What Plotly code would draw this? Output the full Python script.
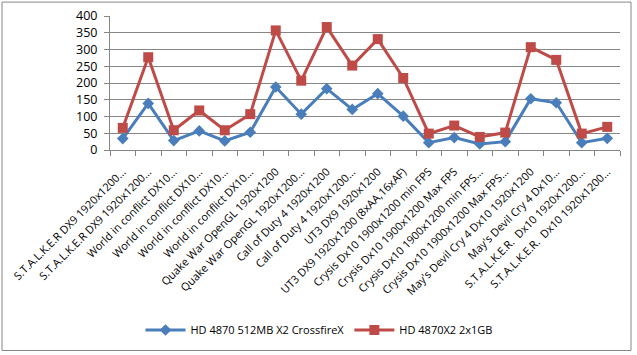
import plotly.graph_objects as go

categories = [
    "S.T.A.L.K.E.R DX9 1920x1200...",
    "S.T.A.L.K.E.R DX9 1920x1200...",
    "World in conflict DX10...",
    "World in conflict DX10...",
    "World in conflict DX10...",
    "World in conflict DX10...",
    "Quake War OpenGL 1920x1200",
    "Quake War OpenGL 1920x1200...",
    "Call of Duty 4 1920x1200",
    "Call of Duty 4 1920x1200...",
    "UT3 DX9 1920x1200",
    "UT3 DX9 1920x1200 (8xAA,16xAF)",
    "Crysis Dx10 1900x1200 min FPS",
    "Crysis Dx10 1900x1200 Max FPS",
    "Crysis Dx10 1900x1200 min FPS...",
    "Crysis Dx10 1900x1200 Max FPS...",
    "May's Devil Cry 4 Dx10 1920x1200",
    "May's Devil Cry 4 Dx10...",
    "S.T.A.L.K.E.R.  Dx10 1920x1200...",
    "S.T.A.L.K.E.R.  Dx10 1920x1200...",
]
crossfire = [34, 139, 28, 57, 27, 53, 188, 107, 183, 121, 168, 101, 22, 37, 18, 25, 153, 141, 22, 35]
x2 = [66, 277, 59, 118, 59, 107, 357, 207, 367, 252, 331, 215, 49, 73, 39, 52, 307, 269, 49, 69]
y_ticks = [0, 50, 100, 150, 200, 250, 300, 350, 400]

idx = list(range(len(categories)))
FONT = "'Open Sans', 'Noto Sans', sans-serif"

fig = go.Figure()
fig.add_trace(go.Scatter(
    x=idx, y=crossfire, mode="lines+markers", name="HD 4870 512MB X2 CrossfireX",
    line=dict(color="#4A7EBB", width=3),
    marker=dict(symbol="diamond", size=9, color="#4A7EBB"),
))
fig.add_trace(go.Scatter(
    x=idx, y=x2, mode="lines+markers", name="HD 4870X2 2x1GB",
    line=dict(color="#BE4B48", width=3),
    marker=dict(symbol="square", size=10, color="#BE4B48"),
))

L, R, T, B = 110, 17, 16, 204
W, H = 637, 355
pw, ph = W - L - R, H - T - B

def px_x(p):
    return (p - L) / pw

def px_y(p):
    return (H - B - p) / ph

fig.update_layout(
    width=W, height=H, autosize=False,
    margin=dict(l=L, r=R, t=T, b=B),
    paper_bgcolor="white", plot_bgcolor="white",
    font=dict(family=FONT, size=11, color="black"),
    showlegend=True,
    legend=dict(orientation="h", x=px_x(319), xanchor="center", y=px_y(330), yanchor="middle",
                font=dict(size=11), itemwidth=40, bgcolor="rgba(0,0,0,0)"),
    xaxis=dict(
        range=[-0.5, len(categories) - 0.5], automargin=False,
        tickmode="array", tickvals=idx, ticktext=categories,
        tickangle=-45, ticks="", showgrid=False, zeroline=False,
        showline=True, linecolor="#868686", linewidth=1,
        minor=dict(tick0=-0.5, dtick=1, ticks="outside", ticklen=5, tickcolor="#868686", showgrid=False),
        tickfont=dict(size=11), ticklabelstandoff=10, ticklabeloverflow="allow",
    ),
    yaxis=dict(
        range=[0, 400], tickmode="array", tickvals=y_ticks, automargin=False,
        showgrid=True, gridcolor="#868686", gridwidth=1, zeroline=False,
        showline=True, linecolor="#868686", linewidth=1,
        ticks="outside", ticklen=5, tickcolor="#868686",
        tickfont=dict(size=12.5), ticklabelstandoff=4,
    ),
    shapes=[dict(type="rect", xref="paper", yref="paper",
                 x0=px_x(2), x1=px_x(631), y0=px_y(353), y1=px_y(2),
                 line=dict(color="#868686", width=1), fillcolor="rgba(0,0,0,0)", layer="below")],
)

fig.write_html("out.html", config={"displayModeBar": False},
               post_script="document.body.style.margin='0';document.body.style.overflow='hidden';")
